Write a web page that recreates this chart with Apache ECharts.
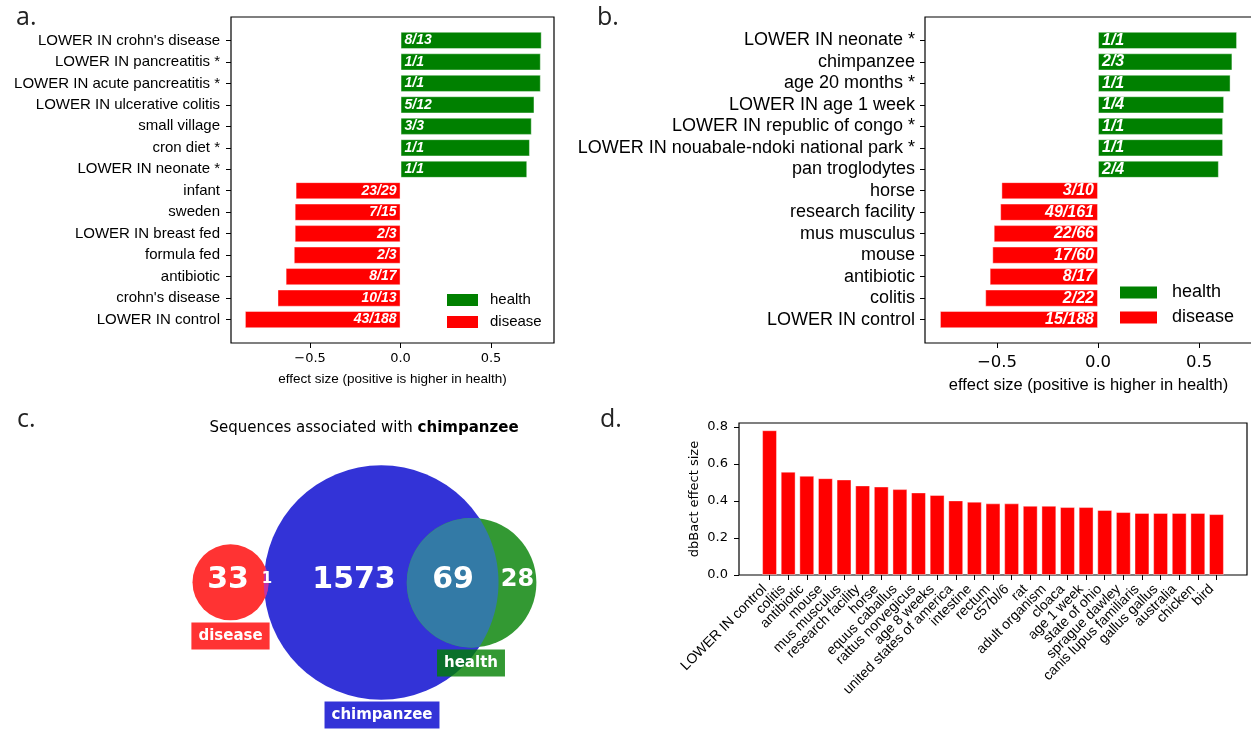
<!DOCTYPE html>
<html>
<head>
<meta charset="utf-8">
<script src="https://cdn.jsdelivr.net/npm/echarts@6/dist/echarts.min.js"></script>
<style>
  html, body { margin: 0; padding: 0; background: #fff; }
  #chart { width: 1251px; height: 729px; }
</style>
</head>
<body>
<div id="chart"></div>
<script>
// ---- a. terms enriched in health / disease (effect size, positive = higher in health)
const aTerms = ["LOWER IN crohn's disease", "LOWER IN pancreatitis *", "LOWER IN acute pancreatitis *",
  "LOWER IN ulcerative colitis", "small village", "cron diet *", "LOWER IN neonate *", "infant", "sweden",
  "LOWER IN breast fed", "formula fed", "antibiotic", "crohn's disease", "LOWER IN control"];
const aEffect = [0.78, 0.775, 0.775, 0.74, 0.725, 0.715, 0.70, -0.58, -0.585, -0.585, -0.59, -0.635, -0.68, -0.86];
const aCounts = ['8/13', '1/1', '1/1', '5/12', '3/3', '1/1', '1/1', '23/29', '7/15', '2/3', '2/3', '8/17', '10/13', '43/188'];

// ---- b. same analysis, second dataset
const bTerms = ["LOWER IN neonate *", "chimpanzee", "age 20 months *", "LOWER IN age 1 week",
  "LOWER IN republic of congo *", "LOWER IN nouabale-ndoki national park *", "pan troglodytes", "horse",
  "research facility", "mus musculus", "mouse", "antibiotic", "colitis", "LOWER IN control"];
const bEffect = [0.688, 0.665, 0.656, 0.624, 0.619, 0.619, 0.598, -0.478, -0.484, -0.516, -0.523, -0.536, -0.558, -0.782];
const bCounts = ['1/1', '2/3', '1/1', '1/4', '1/1', '1/1', '2/4', '3/10', '49/161', '22/66', '17/60', '8/17', '2/22', '15/188'];

// ---- c. sequences shared between the three sets
const vennSets = ['disease', 'chimpanzee', 'health'];
// regions: disease only, disease & chimpanzee, chimpanzee only, chimpanzee & health, health only
const vennCounts = [33, 1, 1573, 69, 28];

// ---- d. dbBact terms for the disease-associated sequences
const dTerms = ['LOWER IN control', 'colitis', 'antibiotic', 'mouse', 'mus musculus', 'research facility', 'horse',
  'equus caballus', 'rattus norvegicus', 'age 8 weeks', 'united states of america', 'intestine', 'rectum',
  'c57bl/6', 'rat', 'adult organism', 'cloaca', 'age 1 week', 'state of ohio', 'sprague dawley',
  'canis lupus familiaris', 'gallus gallus', 'australia', 'chicken', 'bird'];
const dEffect = [0.782, 0.558, 0.536, 0.523, 0.516, 0.484, 0.478, 0.464, 0.446, 0.432, 0.403, 0.396, 0.387,
  0.387, 0.374, 0.374, 0.367, 0.367, 0.351, 0.340, 0.335, 0.335, 0.335, 0.335, 0.329];

// axis limits and tick values
const aLimits = [-0.937, 0.848];
const bLimits = [-0.856, 0.762];
const dLimits = [0, 0.821];
const effectTicks = [-0.5, 0, 0.5];
const dTicks = [0, 0.2, 0.4, 0.6, 0.8];

// ---------------------------------------------------------------------------
const SANS = '"Liberation Sans", Arial, sans-serif';
const DJV = '"DejaVu Sans", sans-serif';
const GREEN = '#008000', RED = '#ff0000';

const frameA = { left: 231, top: 17, width: 323, height: 326 };
const frameB = { left: 925, top: 17, width: 327, height: 326 };
const frameD = { left: 739, top: 423, width: 508, height: 152 };

// Bars sit in an inner grid whose bands line up with the padded frame
// (bar thickness 0.8, 5% data margin on each side).
function innerGrid(frame, n, alongY) {
  const pad = 0.4 + 0.05 * (n - 1 + 0.8);
  const span = alongY ? frame.height : frame.width;
  const band = span / (n - 1 + 2 * pad);
  const off = (pad - 0.5) * band;
  if (alongY) return { left: frame.left, width: frame.width, top: frame.top + off, height: band * n };
  return { left: frame.left + off, width: band * n, top: frame.top, height: frame.height };
}

const fmtTick = v => (v < 0 ? '\u2212' : '') + Math.abs(v).toFixed(1);

function frameGrid(f) {
  return Object.assign({ show: true, borderColor: '#000', borderWidth: 1.2, backgroundColor: 'transparent', containLabel: false, outerBoundsMode: 'none' }, f);
}
function plainGrid(f) {
  return Object.assign({ show: false, containLabel: false, outerBoundsMode: 'none' }, f);
}
const hidden = (gi, min, max) => ({ gridIndex: gi, type: 'value', show: false, min, max, splitLine: { show: false } });

function effectXAxis(gi, lim, tickSize, nameSize, margin, nameGap) {
  return {
    gridIndex: gi, type: 'value', min: lim[0], max: lim[1], position: 'bottom',
    axisLine: { show: false, onZero: false }, splitLine: { show: false },
    axisTick: { show: true, length: 5, customValues: effectTicks, lineStyle: { color: '#000', width: 1 } },
    axisLabel: { customValues: effectTicks, formatter: fmtTick, fontFamily: DJV, fontSize: tickSize, color: '#000', margin },
    name: 'effect size (positive is higher in health)', nameLocation: 'middle', nameGap,
    nameTextStyle: { fontFamily: SANS, fontSize: nameSize, color: '#000' }
  };
}
function termYAxis(gi, terms, size, margin) {
  return {
    gridIndex: gi, type: 'category', data: terms, inverse: true, position: 'left',
    axisLine: { show: false, onZero: false }, splitLine: { show: false },
    axisTick: { show: true, alignWithLabel: true, length: 5, lineStyle: { color: '#000', width: 1 } },
    axisLabel: { interval: 0, fontFamily: SANS, fontSize: size, color: '#000', margin }
  };
}
function effectSeries(gi, values, counts, positive, labelSize) {
  return {
    type: 'bar', name: positive ? 'health' : 'disease',
    xAxisIndex: gi, yAxisIndex: gi,
    data: values.map(v => (positive ? v > 0 : v < 0) ? v : '-'),
    barWidth: '80%', barGap: '-100%',
    itemStyle: { color: positive ? GREEN : RED, borderColor: 'rgba(255,255,255,0.4)', borderWidth: 1 },
    label: {
      show: true, position: positive ? 'insideLeft' : 'insideRight', distance: 4,
      formatter: p => counts[p.dataIndex],
      color: '#fff', fontStyle: 'italic', fontWeight: 'bold', fontFamily: SANS, fontSize: labelSize
    },
    emphasis: { disabled: true }
  };
}

// ---- Venn geometry (panel c)
const vennCircles = [
  { cx: 230.5, cy: 582.3, r: 38, color: '#ff3333' },   // disease
  { cx: 381.2, cy: 582.5, r: 117.3, color: '#3333d7' }, // chimpanzee
  { cx: 471.6, cy: 582.7, r: 64.8, color: '#339933' }   // health
];
const vennLensColors = { dc: '#c233a6', ch: '#337aa6' };
const vennNumberPos = [[228, 580, 30], [267, 579, 15], [354, 580, 30], [453, 580, 30], [517.5, 580, 24]];
const vennBoxes = [
  { x: 230.5, y: 636, bg: 'rgba(255,0,0,0.8)' },
  { x: 382, y: 715, bg: 'rgba(0,0,205,0.8)' },
  { x: 471, y: 663, bg: 'rgba(0,128,0,0.8)' }
];

function lensPoints(c1, c2, steps) {
  const dx = c2.cx - c1.cx, dy = c2.cy - c1.cy, d = Math.hypot(dx, dy);
  const a = (d * d + c1.r * c1.r - c2.r * c2.r) / (2 * d);
  const base = Math.atan2(dy, dx);
  const t1 = Math.acos(Math.max(-1, Math.min(1, a / c1.r)));
  const t2 = Math.acos(Math.max(-1, Math.min(1, (d - a) / c2.r)));
  const pts = [];
  for (let i = 0; i <= steps; i++) {
    const ang = base - t1 + 2 * t1 * i / steps;
    pts.push([c1.cx + c1.r * Math.cos(ang), c1.cy + c1.r * Math.sin(ang)]);
  }
  for (let i = 0; i <= steps; i++) {
    const ang = base + Math.PI - t2 + 2 * t2 * i / steps;
    pts.push([c2.cx + c2.r * Math.cos(ang), c2.cy + c2.r * Math.sin(ang)]);
  }
  return pts;
}

const graphic = [];
// panel letters
[['a.', 16, 18], ['b.', 597, 18], ['c.', 17, 420], ['d.', 600, 420]].forEach(([t, x, y]) => {
  graphic.push({ type: 'text', x, y, style: { text: t, fontFamily: '"Open Sans", sans-serif', fontSize: 25, fill: '#222', align: 'left', verticalAlign: 'middle' } });
});
// Venn title
graphic.push({
  type: 'text', x: 364, y: 428,
  style: {
    text: 'Sequences associated with {b|' + vennSets[1] + '}',
    rich: { b: { fontFamily: DJV, fontWeight: 'bold', fontSize: 15, fill: '#000' } },
    fontFamily: DJV, fontSize: 15, fill: '#000', align: 'center', verticalAlign: 'middle'
  }
});
// circles: chimpanzee first, then disease and health on top
[1, 0, 2].forEach(i => {
  const c = vennCircles[i];
  graphic.push({ type: 'circle', shape: { cx: c.cx, cy: c.cy, r: c.r }, style: { fill: c.color } });
});
graphic.push({ type: 'polygon', shape: { points: lensPoints(vennCircles[1], vennCircles[2], 80) }, style: { fill: vennLensColors.ch } });
graphic.push({ type: 'polygon', shape: { points: lensPoints(vennCircles[0], vennCircles[1], 40) }, style: { fill: vennLensColors.dc } });
// region counts
vennCounts.forEach((n, i) => {
  const [x, y, s] = vennNumberPos[i];
  graphic.push({ type: 'text', x, y, style: { text: String(n), fontFamily: DJV, fontWeight: 'bold', fontSize: s, fill: '#fff', align: 'center', verticalAlign: 'middle' } });
});
// set name boxes
vennSets.forEach((name, i) => {
  const b = vennBoxes[i];
  graphic.push({
    type: 'text', x: b.x, y: b.y,
    style: {
      text: name, fontFamily: DJV, fontWeight: 'bold', fontSize: 15, lineHeight: 17, fill: '#fff',
      backgroundColor: b.bg, padding: [5, 7, 5, 7], align: 'center', verticalAlign: 'middle'
    }
  });
});

const gA = innerGrid(frameA, aTerms.length, true);
const gB = innerGrid(frameB, bTerms.length, true);
const gD = innerGrid(frameD, dTerms.length, false);

const option = {
  animation: false,
  backgroundColor: '#fff',
  textStyle: { fontFamily: SANS },
  grid: [frameGrid(frameA), plainGrid(gA), frameGrid(frameB), plainGrid(gB), frameGrid(frameD), plainGrid(gD)],
  xAxis: [
    effectXAxis(0, aLimits, 13, 13.5, 9, 29),
    hidden(1, aLimits[0], aLimits[1]),
    effectXAxis(2, bLimits, 16.5, 16.5, 11, 34),
    hidden(3, bLimits[0], bLimits[1]),
    hidden(4, 0, 1),
    {
      gridIndex: 5, type: 'category', data: dTerms, position: 'bottom',
      axisLine: { show: false, onZero: false }, splitLine: { show: false },
      axisTick: { show: true, alignWithLabel: true, length: 5, lineStyle: { color: '#000', width: 1 } },
      axisLabel: { interval: 0, rotate: 45, margin: 7, padding: [0, 7, 0, 0], fontFamily: SANS, fontSize: 14, color: '#000' }
    }
  ],
  yAxis: [
    hidden(0, 0, 1),
    termYAxis(1, aTerms, 15, 11),
    hidden(2, 0, 1),
    termYAxis(3, bTerms, 18, 10),
    {
      gridIndex: 4, type: 'value', min: dLimits[0], max: dLimits[1], position: 'left',
      axisLine: { show: false, onZero: false }, splitLine: { show: false },
      axisTick: { show: true, length: 5, customValues: dTicks, lineStyle: { color: '#000', width: 1 } },
      axisLabel: { customValues: dTicks, formatter: v => v.toFixed(1), fontFamily: DJV, fontSize: 13, color: '#000', margin: 11 },
      name: 'dbBact effect size', nameLocation: 'middle', nameGap: 38,
      nameTextStyle: { fontFamily: DJV, fontSize: 13, color: '#000' }
    },
    hidden(5, dLimits[0], dLimits[1])
  ],
  legend: [
    {
      data: ['health', 'disease'], orient: 'vertical', left: 447, top: 292.5, padding: 0,
      itemWidth: 31, itemHeight: 12, itemGap: 7, icon: 'rect', selectedMode: false,
      itemStyle: { borderWidth: 0 },
      textStyle: { fontFamily: SANS, fontSize: 15, color: '#000', lineHeight: 12, padding: [0, 0, 0, 7] }
    },
    {
      data: ['health', 'disease'], orient: 'vertical', left: 1120, top: 283.5, padding: 0,
      itemWidth: 37, itemHeight: 12, itemGap: 7, icon: 'rect', selectedMode: false,
      itemStyle: { borderWidth: 0 },
      textStyle: { fontFamily: SANS, fontSize: 18, color: '#000', lineHeight: 12, padding: [0, 0, 0, 10] }
    }
  ],
  series: [
    effectSeries(1, aEffect, aCounts, true, 14),
    effectSeries(1, aEffect, aCounts, false, 14),
    effectSeries(3, bEffect, bCounts, true, 16),
    effectSeries(3, bEffect, bCounts, false, 16),
    {
      type: 'bar', name: 'dbBact effect size', xAxisIndex: 5, yAxisIndex: 5, data: dEffect,
      barWidth: '80%', itemStyle: { color: RED, borderColor: 'rgba(255,255,255,0.4)', borderWidth: 1 },
      emphasis: { disabled: true }
    }
  ],
  graphic
};

const chart = echarts.init(document.getElementById('chart'), null, { renderer: 'canvas' });
chart.setOption(option);
</script>
</body>
</html>
